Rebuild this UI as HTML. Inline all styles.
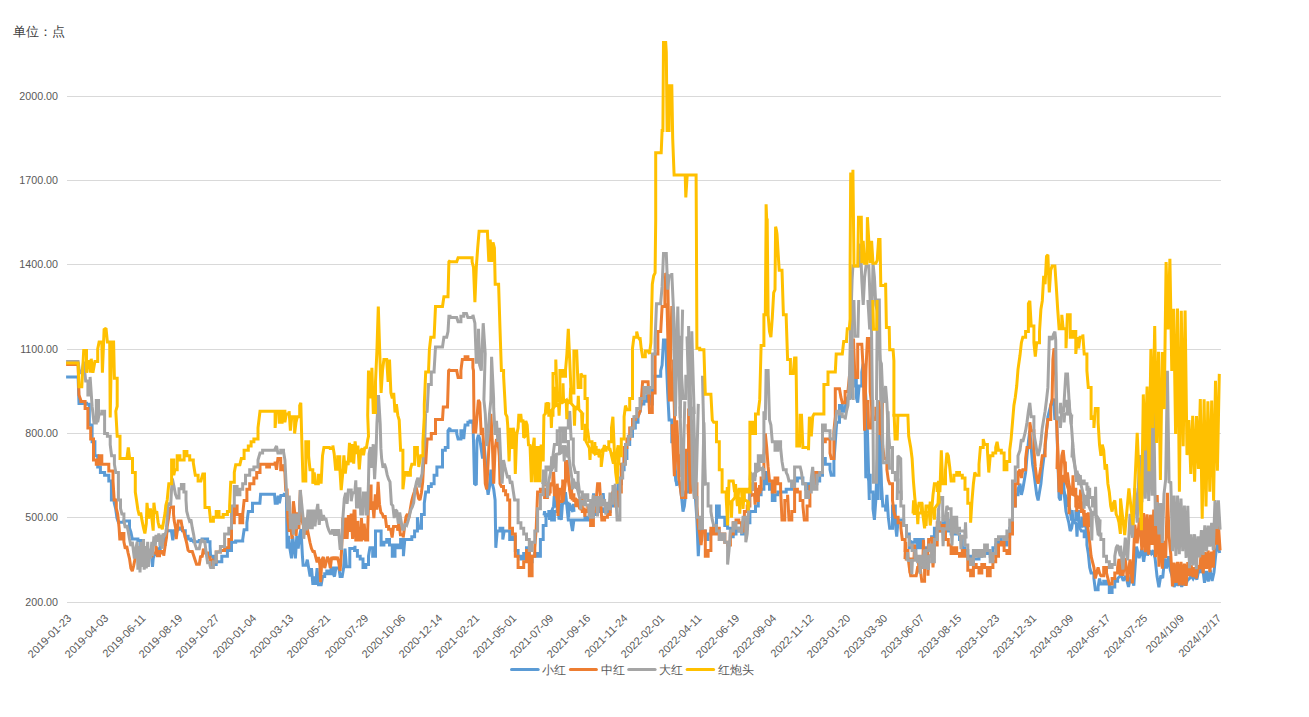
<!DOCTYPE html>
<html><head><meta charset="utf-8"><style>
html,body{margin:0;padding:0;background:#fff;}
body{width:1309px;height:717px;overflow:hidden;position:relative;font-family:"Liberation Sans",sans-serif;}
svg{position:absolute;left:0;top:0;}
.yl{position:absolute;right:1251px;font-size:10.7px;color:#595959;line-height:12px;white-space:nowrap;}
.xl{position:absolute;font-size:11px;color:#595959;white-space:nowrap;transform-origin:100% 50%;transform:rotate(-45deg);line-height:12px;}
.unit{position:absolute;left:13px;top:23.6px;font-size:12.5px;color:#404040;white-space:nowrap;}
.leg{position:absolute;top:663px;font-size:12px;color:#595959;white-space:nowrap;line-height:14px;}
</style></head><body>
<div class="unit">单位：点</div>
<div class="yl" style="top:90px">2000.00</div>
<div class="yl" style="top:174px">1700.00</div>
<div class="yl" style="top:258px">1400.00</div>
<div class="yl" style="top:343px">1100.00</div>
<div class="yl" style="top:427px">800.00</div>
<div class="yl" style="top:511px">500.00</div>
<div class="yl" style="top:596px">200.00</div>
<div class="xl" style="right:1240.2px;top:610px">2019-01-23</div>
<div class="xl" style="right:1203.1px;top:610px">2019-04-03</div>
<div class="xl" style="right:1166.0px;top:610px">2019-06-11</div>
<div class="xl" style="right:1128.8px;top:610px">2019-08-19</div>
<div class="xl" style="right:1091.7px;top:610px">2019-10-27</div>
<div class="xl" style="right:1054.6px;top:610px">2020-01-04</div>
<div class="xl" style="right:1017.5px;top:610px">2020-03-13</div>
<div class="xl" style="right:980.4px;top:610px">2020-05-21</div>
<div class="xl" style="right:943.2px;top:610px">2020-07-29</div>
<div class="xl" style="right:906.1px;top:610px">2020-10-06</div>
<div class="xl" style="right:869.0px;top:610px">2020-12-14</div>
<div class="xl" style="right:831.9px;top:610px">2021-02-21</div>
<div class="xl" style="right:794.8px;top:610px">2021-05-01</div>
<div class="xl" style="right:757.6px;top:610px">2021-07-09</div>
<div class="xl" style="right:720.5px;top:610px">2021-09-16</div>
<div class="xl" style="right:683.4px;top:610px">2021-11-24</div>
<div class="xl" style="right:646.3px;top:610px">2022-02-01</div>
<div class="xl" style="right:609.2px;top:610px">2022-04-11</div>
<div class="xl" style="right:572.1px;top:610px">2022-06-19</div>
<div class="xl" style="right:534.9px;top:610px">2022-09-04</div>
<div class="xl" style="right:497.8px;top:610px">2022-11-12</div>
<div class="xl" style="right:460.7px;top:610px">2023-01-20</div>
<div class="xl" style="right:423.6px;top:610px">2023-03-30</div>
<div class="xl" style="right:386.5px;top:610px">2023-06-07</div>
<div class="xl" style="right:349.3px;top:610px">2023-08-15</div>
<div class="xl" style="right:312.2px;top:610px">2023-10-23</div>
<div class="xl" style="right:275.1px;top:610px">2023-12-31</div>
<div class="xl" style="right:238.0px;top:610px">2024-03-09</div>
<div class="xl" style="right:200.9px;top:610px">2024-05-17</div>
<div class="xl" style="right:163.7px;top:610px">2024-07-25</div>
<div class="xl" style="right:126.6px;top:610px">2024/10/9</div>
<div class="xl" style="right:89.5px;top:610px">2024/12/17</div>
<svg width="1309" height="717" viewBox="0 0 1309 717">
<line x1="67" x2="1221" y1="96.5" y2="96.5" stroke="#D9D9D9" stroke-width="1"/>
<line x1="67" x2="1221" y1="180.5" y2="180.5" stroke="#D9D9D9" stroke-width="1"/>
<line x1="67" x2="1221" y1="264.5" y2="264.5" stroke="#D9D9D9" stroke-width="1"/>
<line x1="67" x2="1221" y1="349.5" y2="349.5" stroke="#D9D9D9" stroke-width="1"/>
<line x1="67" x2="1221" y1="433.5" y2="433.5" stroke="#D9D9D9" stroke-width="1"/>
<line x1="67" x2="1221" y1="517.5" y2="517.5" stroke="#D9D9D9" stroke-width="1"/>
<line x1="67" x2="1221" y1="602.5" y2="602.5" stroke="#D9D9D9" stroke-width="1"/>
<polyline points="66.1,376.9 78.1,376.9 79.0,403.4 82.3,403.4 82.3,403.3 86.5,403.3 86.5,404.2 89.3,404.2 89.3,425.1 92.1,425.1 92.1,441.8 94.9,441.8 94.9,455.8 97.7,455.8 97.7,466.9 100.4,466.9 100.4,472.5 104.6,472.5 104.6,475.3 108.8,475.3 108.8,480.9 111.4,480.9 111.4,500.0 114.2,500.0 114.2,502.8 115.6,508.4 117.0,518.1 118.4,522.3 121.2,522.3 123.9,522.3 123.9,520.9 126.7,520.9 129.5,520.9 129.5,527.9 130.9,532.1 132.3,539.1 135.1,539.1 137.9,539.1 137.9,540.4 140.7,540.4 140.7,546.0 143.5,546.0 143.5,547.4 146.3,547.4 146.3,550.2 149.1,550.2 149.1,553.0 151.8,553.0 151.8,558.6 152.5,566.9 153.2,558.6 154.6,554.4 157.4,554.4 157.4,548.8 160.2,548.8 160.2,544.6 163.0,544.6 165.1,544.6 165.1,543.2 165.8,536.3 167.2,530.7 171.4,530.7 172.8,540.4 174.2,530.7 176.9,530.7 176.9,529.3 179.7,529.3 179.7,527.9 182.5,527.9 182.5,530.7 185.3,530.7 185.3,536.3 188.1,536.3 188.1,539.1 190.9,539.1 190.9,540.4 193.7,540.4 193.7,541.8 199.3,541.8 199.3,540.4 202.1,540.4 202.1,539.1 204.8,539.1 207.6,539.1 207.6,541.8 210.0,541.8 210.0,546.0 210.6,556.2 213.4,556.2 213.4,564.6 216.2,564.6 216.2,561.8 221.8,561.8 221.8,556.2 227.4,556.2 227.4,550.6 231.5,550.6 231.5,542.3 235.7,542.3 235.7,540.9 242.7,540.9 242.7,539.5 244.1,529.7 246.9,529.7 246.9,522.7 248.3,511.6 252.5,511.6 252.5,503.2 255.0,503.2 259.9,503.2 260.6,494.2 274.5,494.2 275.2,503.2 277.3,503.2 278.0,495.6 279.4,503.2 280.8,495.6 284.3,495.6 284.3,494.2 286.4,494.2 287.1,548.6 288.5,536.0 289.9,548.6 291.5,558.3 292.7,536.0 294.1,548.6 295.4,558.3 296.8,536.0 298.2,548.6 299.6,536.0 301.0,529.1 302.4,555.6 303.1,565.3 305.9,565.3 307.3,559.7 308.7,568.1 310.1,576.5 311.5,568.1 312.9,584.8 314.3,576.5 315.7,584.8 317.1,568.1 318.5,584.8 321.2,584.8 322.6,576.5 324.7,576.5 324.7,573.7 326.8,573.7 326.8,570.9 328.9,570.9 328.9,573.7 331.0,573.7 331.0,568.1 333.1,568.1 333.1,573.7 334.5,576.5 335.9,568.1 338.7,568.1 338.7,566.7 340.1,576.5 342.2,576.5 343.6,568.1 345.0,548.6 346.4,566.7 347.7,566.7 349.8,566.7 349.8,548.6 352.6,548.6 355.0,548.6 355.0,545.8 354.6,550.6 357.4,550.6 357.4,556.2 360.2,556.2 360.2,559.0 363.0,559.0 363.0,567.4 365.8,567.4 365.8,564.6 368.5,564.6 368.5,556.2 369.9,547.8 372.7,547.8 372.7,556.2 375.5,556.2 375.5,531.1 378.3,531.1 381.1,531.1 381.1,545.0 383.9,545.0 383.9,542.3 386.7,542.3 386.7,539.5 389.5,539.5 389.5,545.0 392.3,545.0 392.3,556.2 395.0,556.2 395.0,545.0 397.8,545.0 397.8,547.8 400.6,547.8 400.6,539.5 403.4,539.5 403.4,556.2 404.8,539.5 407.6,539.5 411.8,539.5 411.8,536.7 414.6,536.7 414.6,531.1 417.4,531.1 417.4,517.2 418.8,528.3 421.5,528.3 421.5,514.4 424.3,514.4 424.3,503.2 425.7,492.1 428.5,492.1 428.5,486.5 431.3,486.5 431.3,483.7 434.1,483.7 434.1,475.3 436.9,475.3 436.9,466.9 439.7,466.9 442.5,466.9 442.5,450.2 445.3,450.2 445.3,447.4 448.0,447.4 448.0,430.7 450.0,427.9 450.0,430.7 456.7,430.7 456.7,433.5 458.1,439.1 460.9,439.1 460.9,430.7 463.7,430.7 463.7,439.1 465.1,425.1 467.9,425.1 467.9,422.3 470.0,422.3 470.0,420.9 472.8,420.9 473.5,440.4 474.5,483.7 476.3,485.1 477.0,440.4 478.4,434.9 479.8,439.1 481.2,448.8 482.6,458.6 483.9,441.8 485.3,458.6 486.7,483.7 488.1,494.8 489.5,486.5 490.9,469.7 492.3,483.7 493.7,489.3 495.1,500.0 495.8,547.8 497.2,531.1 500.0,531.1 500.0,528.3 502.8,528.3 502.8,539.5 504.2,531.1 506.9,531.1 509.7,531.1 509.7,539.5 512.5,539.5 512.5,536.7 515.3,536.7 515.3,550.6 518.1,550.6 518.1,556.2 520.9,556.2 520.9,559.0 523.7,559.0 523.7,553.4 526.5,553.4 526.5,547.8 529.3,547.8 529.3,561.8 532.1,561.8 532.1,556.2 534.8,556.2 534.8,553.4 537.6,553.4 537.6,556.2 540.4,556.2 540.4,539.5 543.2,539.5 543.2,525.5 546.0,525.5 546.0,514.4 548.8,514.4 548.8,511.6 551.6,511.6 551.6,519.9 554.4,519.9 554.4,511.6 557.2,511.6 557.2,506.0 559.9,506.0 559.9,511.6 561.3,519.9 562.7,500.4 565.5,500.4 565.5,492.1 566.9,506.0 568.3,519.9 571.1,519.9 571.1,522.7 572.5,531.1 573.9,519.9 576.7,519.9 579.5,519.9 582.3,519.9 585.0,519.9 585.0,517.2 587.8,517.2 587.8,519.9 590.6,519.9 590.6,517.2 593.4,517.2 593.4,514.4 596.2,514.4 596.2,506.0 599.0,506.0 599.0,511.6 601.8,511.6 601.8,508.8 604.6,508.8 604.6,511.6 607.4,511.6 610.2,511.6 610.2,506.0 612.9,506.0 612.9,494.8 615.7,494.8 615.7,492.1 618.5,492.1 618.5,483.7 621.3,483.7 621.3,469.7 624.1,469.7 624.1,458.6 626.9,458.6 626.9,444.6 629.7,444.6 629.7,436.3 632.5,436.3 632.5,427.9 635.3,427.9 635.3,422.3 638.0,422.3 638.0,416.7 640.0,411.2 640.0,412.5 641.2,404.1 643.9,404.1 643.9,401.3 646.7,401.3 646.7,395.7 649.5,395.7 649.5,404.1 652.3,404.1 652.3,392.9 653.7,376.2 657.9,376.2 660.7,376.2 660.7,370.6 662.1,365.0 663.5,339.9 665.7,339.9 666.3,359.5 667.7,392.9 669.1,420.0 671.8,420.0 671.8,441.8 674.6,441.8 674.6,455.8 676.0,480.9 677.4,483.7 680.2,483.7 680.2,486.5 681.6,497.6 683.0,511.6 684.4,506.0 685.8,492.1 688.6,492.1 688.6,447.4 690.0,455.8 691.4,469.7 694.2,469.7 694.2,483.7 695.6,500.4 696.9,519.9 698.3,556.2 699.7,528.3 701.1,522.7 702.5,531.1 705.3,531.1 705.3,539.5 708.1,539.5 708.1,533.9 710.9,533.9 710.9,531.1 713.7,531.1 713.7,525.5 716.5,525.5 716.5,506.0 719.3,506.0 719.3,517.2 722.1,517.2 724.8,517.2 724.8,525.5 727.6,525.5 727.6,528.3 730.4,528.3 730.4,536.7 733.2,536.7 733.2,533.9 736.0,533.9 736.0,528.3 738.8,528.3 738.8,531.1 741.6,531.1 741.6,533.9 744.4,533.9 744.4,528.3 747.2,528.3 747.2,522.7 749.9,522.7 749.9,511.6 752.7,511.6 755.5,511.6 755.5,506.0 758.3,506.0 758.3,494.8 761.1,494.8 761.1,489.3 763.9,489.3 763.9,472.5 766.7,472.5 766.7,483.7 769.5,483.7 769.5,489.3 772.3,489.3 772.3,500.4 775.0,500.4 775.0,494.8 777.8,494.8 777.8,492.1 780.6,492.1 783.4,492.1 786.2,492.1 786.2,489.3 789.0,489.3 791.8,489.3 791.8,483.7 794.6,483.7 794.6,480.9 797.4,480.9 797.4,478.1 802.9,478.1 802.9,483.7 805.7,483.7 805.7,489.3 808.5,489.3 808.5,483.7 811.3,483.7 811.3,480.9 814.1,480.9 814.1,483.7 816.9,483.7 816.9,480.9 819.7,480.9 819.7,475.3 822.5,475.3 822.5,458.6 825.3,458.6 825.3,464.2 830.0,464.2 830.0,466.9 830.0,469.7 831.2,475.3 833.9,475.3 833.9,461.4 835.3,441.8 836.7,422.3 839.5,422.3 839.5,405.6 842.3,405.6 842.3,411.2 845.1,411.2 845.1,408.4 846.5,400.0 847.9,397.2 850.7,397.2 850.7,386.0 853.5,386.0 853.5,377.6 856.3,377.6 856.3,397.2 857.7,402.7 859.1,386.0 861.8,386.0 861.8,372.1 863.2,363.7 864.6,377.6 866.0,399.9 867.4,430.6 868.8,480.0 867.4,475.3 870.2,475.3 870.2,492.1 873.0,492.1 873.0,508.8 874.4,519.9 875.8,500.4 877.2,464.2 878.6,436.3 880.0,455.8 881.4,483.7 882.8,506.0 885.6,506.0 885.6,511.6 886.9,494.8 888.3,517.2 889.7,528.3 892.5,528.3 892.5,506.0 895.3,506.0 895.3,522.7 896.7,536.7 898.1,519.9 900.9,519.9 903.7,519.9 903.7,525.5 906.5,525.5 906.5,533.9 909.3,533.9 909.3,547.8 912.1,547.8 912.1,542.3 914.8,542.3 914.8,539.5 917.6,539.5 917.6,547.8 920.4,547.8 920.4,539.5 923.2,539.5 923.2,547.8 926.0,547.8 926.0,550.6 928.8,550.6 928.8,539.5 931.6,539.5 931.6,536.7 934.4,536.7 934.4,528.3 937.2,528.3 937.2,531.1 939.9,531.1 942.7,531.1 942.7,522.7 945.5,522.7 945.5,519.9 948.3,519.9 948.3,531.1 951.1,531.1 951.1,533.9 953.9,533.9 953.9,531.1 956.7,531.1 956.7,533.9 959.5,533.9 959.5,539.5 962.3,539.5 962.3,547.8 965.0,547.8 965.0,550.6 967.8,550.6 967.8,556.2 970.6,556.2 970.6,564.6 973.4,564.6 973.4,559.0 976.2,559.0 979.0,559.0 979.0,556.2 981.8,556.2 981.8,553.4 984.6,553.4 984.6,550.6 987.4,550.6 987.4,553.4 990.2,553.4 990.2,556.2 992.9,556.2 992.9,547.8 995.7,547.8 995.7,545.0 998.5,545.0 998.5,539.5 1001.3,539.5 1001.3,542.3 1004.1,542.3 1004.1,545.0 1006.9,545.0 1006.9,536.7 1009.7,536.7 1009.7,528.3 1012.5,528.3 1012.5,506.0 1015.3,506.0 1015.3,494.8 1018.0,494.8 1018.0,489.3 1020.0,483.7 1020.0,483.7 1021.4,494.8 1022.8,489.3 1024.2,480.9 1025.6,472.5 1027.0,455.8 1028.4,441.8 1029.8,430.7 1031.2,447.4 1032.6,464.2 1033.9,472.5 1035.3,483.7 1036.7,494.8 1038.1,500.4 1039.5,492.1 1040.9,483.7 1042.3,469.7 1043.7,458.6 1045.1,447.4 1046.5,430.7 1047.9,416.7 1049.3,411.2 1050.7,405.6 1052.1,400.0 1052.9,399.9 1053.5,398.5 1054.9,420.0 1056.3,405.6 1057.7,455.8 1059.1,497.6 1060.4,500.4 1061.8,483.7 1063.2,478.1 1064.6,497.6 1066.0,511.6 1067.4,517.2 1068.8,522.7 1070.2,531.1 1071.6,528.3 1073.0,519.9 1075.8,519.9 1075.8,511.6 1078.6,511.6 1078.6,519.9 1080.0,528.3 1081.4,531.1 1084.2,531.1 1084.2,536.7 1086.9,536.7 1086.9,545.0 1088.3,553.4 1089.7,567.4 1091.1,572.9 1093.9,572.9 1093.9,578.5 1095.3,589.7 1098.1,589.7 1098.1,586.9 1099.5,578.5 1100.9,584.1 1103.7,584.1 1103.7,581.3 1106.5,581.3 1106.5,584.1 1109.3,584.1 1109.3,592.5 1112.1,592.5 1112.1,586.9 1114.8,586.9 1114.8,581.3 1117.6,581.3 1117.6,578.5 1120.4,575.7 1120.5,572.5 1123.2,580.8 1125.8,576.0 1128.5,587.0 1131.1,575.3 1133.8,585.6 1136.5,546.6 1139.1,558.2 1141.8,548.9 1143.7,561.9 1145.6,547.8 1147.5,555.5 1149.4,550.4 1151.3,553.6 1153.2,550.3 1155.1,558.3 1157.0,576.3 1158.9,587.2 1160.8,575.6 1162.7,578.1 1164.6,558.4 1166.5,568.6 1168.4,556.3 1170.3,570.1 1172.2,576.7 1174.1,587.1 1176.0,581.5 1177.9,585.5 1179.8,581.6 1181.7,586.8 1183.6,581.5 1185.5,585.4 1187.4,580.4 1189.3,578.7 1191.2,575.8 1193.1,578.8 1195.0,575.5 1196.9,579.5 1198.8,569.7 1200.7,572.6 1202.6,566.6 1204.5,582.7 1206.4,570.9 1208.3,581.5 1210.2,570.1 1212.1,580.9 1214.0,572.2 1215.9,552.9 1217.8,543.4 1219.7,553.0" fill="none" stroke="#5B9BD5" stroke-width="3" stroke-linejoin="miter" stroke-miterlimit="2" stroke-linecap="butt"/>
<polyline points="674.5,470.4 676.9,486.0" fill="none" stroke="#5B9BD5" stroke-width="3" stroke-linejoin="miter" stroke-miterlimit="2" stroke-linecap="butt"/>
<polyline points="688.0,449.5 690.4,491.2" fill="none" stroke="#5B9BD5" stroke-width="3" stroke-linejoin="miter" stroke-miterlimit="2" stroke-linecap="butt"/>
<polyline points="865.1,427.9 865.8,476.7 868.6,476.7 869.3,500.0" fill="none" stroke="#5B9BD5" stroke-width="3" stroke-linejoin="miter" stroke-miterlimit="2" stroke-linecap="butt"/>
<polyline points="877.9,500.0 878.5,436.3 880.4,436.3 881.3,500.0" fill="none" stroke="#5B9BD5" stroke-width="3" stroke-linejoin="miter" stroke-miterlimit="2" stroke-linecap="butt"/>
<polyline points="1062.0,490.0 1062.6,476.4 1063.2,490.0 1066.8,498.8 1067.4,507.0 1068.0,498.8 1071.6,520.5 1072.2,510.2 1072.8,520.5 1076.4,524.2 1077.0,536.7 1077.6,524.2 1081.2,526.0 1081.8,516.7 1082.4,526.0 1086.0,526.0 1086.6,535.9 1087.2,526.0" fill="none" stroke="#5B9BD5" stroke-width="3" stroke-linejoin="miter" stroke-miterlimit="2" stroke-linecap="butt"/>
<polyline points="544.0,515.4 544.6,511.3 545.2,515.4 548.8,515.4 549.4,519.7 550.0,515.4 553.6,506.2 554.2,496.1 554.8,506.2 558.4,505.9 559.0,519.6 559.6,505.9 563.2,502.8 563.8,489.3 564.4,502.8 568.0,503.2 568.6,517.5 569.2,503.2 572.8,511.9 573.4,503.9 574.0,511.9" fill="none" stroke="#5B9BD5" stroke-width="3" stroke-linejoin="miter" stroke-miterlimit="2" stroke-linecap="butt"/>
<polyline points="593.0,501.6 593.6,493.3 594.2,501.6 597.8,501.6 598.4,507.2 599.0,501.6 602.6,501.6 603.2,493.0 603.8,501.6" fill="none" stroke="#5B9BD5" stroke-width="3" stroke-linejoin="miter" stroke-miterlimit="2" stroke-linecap="butt"/>
<polyline points="910.0,546.0 910.6,540.3 911.2,546.0 915.1,546.0 915.7,550.3 916.3,546.0 920.2,546.0 920.8,541.6 921.4,546.0" fill="none" stroke="#5B9BD5" stroke-width="3" stroke-linejoin="miter" stroke-miterlimit="2" stroke-linecap="butt"/>
<polyline points="66.1,364.4 78.1,364.4 79.0,395.0 80.9,400.6 80.9,401.4 85.1,401.4 85.1,408.4 87.9,408.4 87.9,427.9 90.7,427.9 90.7,439.1 93.5,439.1 93.5,460.0 96.3,460.0 96.3,464.2 99.1,464.2 99.1,455.8 101.8,455.8 101.8,464.2 104.6,464.2 108.8,464.2 108.8,471.1 113.0,471.1 113.0,480.9 114.2,500.0 116.3,500.0 116.3,508.4 117.7,513.9 119.1,527.9 119.8,539.1 121.9,539.1 121.9,533.5 123.9,533.5 123.9,541.8 125.3,548.8 126.7,546.0 128.1,553.0 129.5,558.6 130.9,568.3 132.3,571.1 133.7,565.6 135.1,558.6 136.5,553.0 139.3,553.0 143.5,553.0 143.5,555.8 147.7,555.8 151.8,555.8 151.8,553.0 156.0,553.0 156.0,546.0 157.4,555.8 159.5,555.8 159.5,551.6 161.6,551.6 161.6,553.0 163.7,553.0 163.7,555.8 165.1,546.0 166.5,537.7 167.2,526.5 168.6,518.1 170.0,508.4 171.4,507.0 173.5,507.0 173.5,513.9 174.2,520.9 175.6,527.9 176.2,539.1 177.6,527.9 178.3,520.9 181.1,520.9 182.5,529.3 183.9,532.1 185.3,537.7 186.7,543.2 188.1,550.2 189.5,551.6 192.3,551.6 193.7,555.8 195.1,560.0 196.5,564.2 199.3,564.2 200.7,555.8 202.1,557.2 203.4,548.8 204.8,553.0 207.6,553.0 207.6,557.2 210.0,557.2 210.0,560.0 212.0,560.0 212.0,567.4 213.4,561.8 216.2,561.8 216.2,552.0 220.4,552.0 220.4,550.6 224.6,550.6 224.6,547.8 228.8,547.8 228.8,539.5 231.5,539.5 231.5,522.7 234.3,522.7 234.3,506.0 237.1,506.0 237.1,514.4 239.9,514.4 239.9,522.7 242.7,522.7 242.7,514.4 244.1,500.4 246.9,500.4 246.9,489.3 249.7,489.3 249.7,483.7 253.9,483.7 253.9,478.1 256.7,478.1 256.7,472.5 260.0,472.5 260.0,464.2 260.0,464.2 262.6,464.2 266.7,464.2 266.7,466.9 269.5,466.9 269.5,464.2 275.1,464.2 275.1,461.4 276.5,469.7 277.9,458.6 280.7,458.6 280.7,469.7 283.5,469.7 283.5,464.2 284.9,472.5 285.7,490.0 287.1,490.0 287.8,517.9 289.2,531.8 290.6,523.5 292.0,538.8 293.4,501.2 294.7,512.3 296.1,536.0 297.5,512.3 298.9,529.1 300.3,490.0 301.7,519.3 303.1,524.9 304.5,517.9 305.9,534.6 307.3,529.1 308.7,536.0 310.1,543.0 311.5,548.6 312.9,551.4 314.3,551.4 315.7,556.9 317.1,562.5 318.5,556.9 319.9,565.3 320.6,582.1 321.9,559.7 323.3,556.9 324.7,568.1 326.1,562.5 327.5,556.9 328.9,559.7 330.3,568.1 331.7,556.9 333.1,559.7 334.5,556.9 335.9,559.7 337.3,556.9 338.7,562.5 340.1,570.9 341.5,551.4 342.9,517.9 344.3,538.8 345.7,517.9 347.1,538.8 348.4,515.1 349.8,531.8 351.2,513.7 352.6,538.8 354.0,510.9 355.0,510.9 355.8,540.0 357.9,540.0 357.9,520.9 359.3,540.0 361.4,540.0 361.4,518.1 362.8,540.0 364.2,523.7 365.6,540.0 367.7,540.0 367.7,529.3 369.1,486.0 371.1,486.0 371.1,509.7 372.5,501.4 373.9,518.1 375.3,494.4 376.7,509.7 378.1,481.8 379.5,504.2 380.9,512.5 382.3,513.9 383.7,518.1 385.1,515.3 386.5,526.5 388.6,526.5 388.6,529.3 390.7,529.3 392.1,537.6 393.5,526.5 395.6,526.5 397.6,526.5 397.6,530.7 399.0,522.3 400.4,534.8 403.2,534.8 403.2,537.6 404.6,526.5 406.0,516.7 407.4,513.9 408.8,518.1 410.2,509.7 411.6,501.4 413.0,495.8 414.4,491.6 415.8,486.0 417.2,491.6 418.6,498.6 420.0,500.0 421.4,493.0 422.7,481.8 424.1,453.9 425.5,440.0 425.7,464.2 427.1,439.1 431.3,439.1 431.3,433.5 435.5,433.5 435.5,419.5 442.5,419.5 443.3,407.0 447.5,407.0 448.6,370.6 450.0,369.2 450.0,370.6 456.7,370.6 458.1,377.6 460.9,377.6 460.9,370.6 462.3,359.5 465.1,359.5 465.1,356.7 467.9,356.7 467.9,359.5 472.9,359.5 472.9,367.8 473.5,370.6 474.0,420.0 473.5,432.1 475.6,432.1 475.6,433.5 477.0,416.7 478.4,400.0 479.8,402.8 481.2,434.9 482.6,427.9 483.9,448.8 485.3,483.7 486.7,489.3 488.1,462.8 489.5,434.9 490.9,413.9 492.3,441.8 493.7,483.7 495.1,448.8 496.5,439.1 497.9,440.4 499.3,455.8 500.0,483.7 501.4,486.5 503.5,486.5 503.5,490.7 505.6,490.7 505.6,494.8 507.7,494.8 507.7,500.0 509.7,500.0 509.7,528.3 512.5,528.3 512.5,533.9 515.3,533.9 515.3,556.2 518.1,556.2 518.1,567.4 520.9,567.4 523.7,567.4 523.7,561.8 526.5,561.8 526.5,550.6 529.3,550.6 529.3,575.7 532.1,575.7 532.1,556.2 534.8,556.2 534.8,547.8 536.2,528.3 537.6,492.1 540.4,492.1 540.4,489.3 544.6,489.3 544.6,497.6 547.4,497.6 547.4,492.1 550.2,492.1 550.2,483.7 553.0,483.7 553.0,472.5 554.4,494.8 557.2,494.8 557.2,483.7 558.5,506.0 559.9,489.3 562.7,489.3 562.7,480.9 565.5,480.9 565.5,461.4 568.3,461.4 568.3,478.1 569.7,489.3 571.1,494.8 573.9,494.8 573.9,500.4 576.7,500.4 576.7,503.2 579.5,503.2 579.5,500.4 582.3,500.4 582.3,511.6 585.0,511.6 587.8,511.6 587.8,506.0 590.6,506.0 590.6,525.5 593.4,525.5 593.4,511.6 596.2,511.6 596.2,500.4 597.6,483.7 599.6,483.7 600.4,497.6 601.8,519.9 604.6,519.9 604.6,517.2 607.4,517.2 607.4,514.4 610.2,514.4 610.2,503.2 611.5,494.8 612.9,492.1 615.7,492.1 615.7,506.0 618.5,506.0 618.5,492.1 621.3,492.1 621.3,464.2 624.1,464.2 624.1,447.4 626.9,447.4 626.9,439.1 629.7,439.1 629.7,427.9 632.5,427.9 632.5,419.5 635.3,419.5 635.3,416.7 638.0,416.7 640.0,411.2 640.0,411.9 641.2,401.3 642.6,381.8 648.1,381.8 649.5,412.5 652.3,412.5 652.3,392.9 655.1,392.9 655.1,353.9 657.9,353.9 657.9,331.6 660.7,331.6 662.1,306.5 664.9,306.5 664.9,289.7 665.7,273.0 667.7,275.8 669.1,356.7 670.4,387.4 671.8,401.3 673.2,359.5 674.6,420.0 674.6,469.7 676.0,455.8 678.8,455.8 678.8,478.1 680.2,486.5 681.6,497.6 685.8,497.6 685.8,450.2 688.6,450.2 688.6,408.4 690.0,427.9 691.4,455.8 694.2,455.8 694.2,483.7 696.9,483.7 696.9,506.0 698.3,525.5 699.7,533.9 701.1,545.0 702.5,531.1 705.3,531.1 705.3,556.2 708.1,556.2 708.1,550.6 710.9,550.6 710.9,528.3 713.7,528.3 713.7,533.9 716.5,533.9 716.5,528.3 719.3,528.3 719.3,539.5 722.1,539.5 722.1,533.9 724.8,533.9 724.8,542.3 727.6,542.3 727.6,545.0 730.4,545.0 730.4,533.9 733.2,533.9 733.2,522.7 736.0,522.7 736.0,519.9 738.8,519.9 738.8,522.7 741.6,522.7 741.6,531.1 744.4,531.1 744.4,511.6 747.2,511.6 747.2,506.0 749.9,506.0 749.9,489.3 752.7,489.3 752.7,483.7 755.5,483.7 755.5,500.4 758.3,500.4 758.3,489.3 761.1,489.3 761.1,478.1 763.9,478.1 763.9,455.8 765.3,433.5 766.7,447.4 768.1,466.9 769.5,480.9 772.3,480.9 772.3,492.1 775.0,492.1 775.0,478.1 777.8,478.1 777.8,483.7 780.6,483.7 780.6,489.3 782.0,519.9 784.8,519.9 784.8,500.4 787.6,500.4 787.6,494.8 789.0,519.9 791.8,519.9 791.8,511.6 794.6,511.6 794.6,489.3 797.4,489.3 797.4,492.1 800.2,492.1 800.2,500.4 802.9,500.4 802.9,506.0 804.3,519.9 807.1,519.9 807.1,506.0 809.9,506.0 809.9,486.5 812.7,486.5 812.7,483.7 815.5,483.7 815.5,472.5 819.7,472.5 822.5,472.5 822.5,441.8 825.3,441.8 825.3,439.1 830.0,439.1 830.0,450.2 830.0,453.0 831.2,458.6 833.9,458.6 833.9,430.7 835.3,416.7 835.3,388.8 839.5,388.8 840.9,397.2 842.3,402.7 845.1,402.7 845.1,391.6 847.9,391.6 849.3,377.6 852.1,377.6 853.5,338.6 854.9,377.6 857.7,377.6 857.7,344.2 861.8,344.2 863.2,369.3 864.6,430.6 866.0,369.3 867.4,338.6 869.7,338.6 870.2,391.6 871.6,405.5 873.0,419.5 875.8,419.5 875.8,408.3 878.6,408.3 880.0,419.5 881.4,430.6 882.8,447.4 884.2,458.5 886.9,458.5 886.9,469.7 888.3,480.0 889.7,483.7 892.5,483.7 892.5,500.4 893.9,511.6 895.3,517.2 898.1,517.2 898.1,522.7 900.9,522.7 900.9,528.3 902.3,539.5 905.1,539.5 905.1,550.6 907.9,550.6 907.9,556.2 909.3,567.4 910.7,575.7 913.4,575.7 916.2,575.7 917.6,567.4 920.4,567.4 920.4,570.2 921.8,581.3 924.6,581.3 924.6,567.4 927.4,567.4 927.4,559.0 928.8,539.5 931.6,539.5 931.6,536.7 933.0,567.4 934.4,545.0 937.2,545.0 937.2,522.7 939.9,522.7 939.9,531.1 942.7,531.1 942.7,525.5 945.5,525.5 945.5,539.5 948.3,539.5 948.3,545.0 951.1,545.0 951.1,553.4 953.9,553.4 953.9,547.8 956.7,547.8 956.7,553.4 959.5,553.4 959.5,556.2 962.3,556.2 962.3,550.6 965.0,550.6 965.0,556.2 967.8,556.2 967.8,570.2 970.6,570.2 970.6,575.7 973.4,575.7 973.4,564.6 976.2,564.6 976.2,567.4 979.0,567.4 979.0,572.9 981.8,572.9 981.8,564.6 984.6,564.6 984.6,567.4 987.4,567.4 987.4,575.7 990.2,575.7 990.2,567.4 992.9,567.4 992.9,561.8 995.7,561.8 995.7,556.2 998.5,556.2 998.5,545.0 1001.3,545.0 1001.3,542.3 1004.1,542.3 1004.1,550.6 1006.9,550.6 1006.9,553.4 1009.7,553.4 1009.7,533.9 1012.5,533.9 1012.5,506.0 1015.3,506.0 1015.3,483.7 1018.0,483.7 1018.0,472.5 1020.0,469.7 1020.0,469.7 1021.4,478.1 1022.8,469.7 1025.6,469.7 1025.6,458.6 1027.0,447.4 1029.8,447.4 1029.8,422.3 1031.2,430.7 1033.9,430.7 1033.9,450.2 1035.3,466.9 1036.7,478.1 1038.1,483.7 1039.5,475.3 1040.9,466.9 1042.3,455.8 1045.1,455.8 1045.1,444.6 1046.5,430.7 1047.9,419.5 1050.7,419.5 1050.7,405.6 1052.1,400.0 1052.1,399.9 1052.9,359.5 1054.0,348.3 1054.9,353.9 1055.7,376.2 1056.3,420.0 1056.3,411.2 1057.7,450.2 1059.1,492.1 1060.4,480.9 1061.8,455.8 1063.2,450.2 1064.6,464.2 1066.0,478.1 1067.4,472.5 1068.8,483.7 1070.2,489.3 1071.6,494.8 1073.0,489.3 1075.8,489.3 1075.8,506.0 1078.6,506.0 1078.6,508.8 1080.0,500.4 1081.4,511.6 1084.2,511.6 1084.2,514.4 1086.9,514.4 1086.9,519.9 1088.3,531.1 1089.7,542.3 1091.1,556.2 1092.5,561.8 1093.9,567.4 1095.3,578.5 1096.7,572.9 1098.1,567.4 1099.5,572.9 1100.9,575.7 1103.7,575.7 1103.7,567.4 1106.5,567.4 1106.5,572.9 1107.9,578.5 1109.3,584.1 1112.1,584.1 1112.1,578.5 1114.8,578.5 1114.8,572.9 1117.6,572.9 1117.6,567.4 1119.0,559.0 1120.4,575.7 1120.5,558.8 1122.9,575.8 1125.3,558.1 1127.6,581.3 1130.0,559.5 1132.4,583.4 1134.8,524.8 1137.2,543.3 1139.5,517.8 1141.9,550.2 1143.6,513.1 1145.3,552.3 1147.0,514.3 1148.7,554.7 1150.4,514.7 1152.1,544.8 1153.8,509.6 1155.5,557.2 1157.2,495.0 1158.9,566.6 1160.6,520.3 1162.3,568.6 1164.0,540.8 1165.7,558.0 1167.4,492.7 1169.1,536.3 1170.8,554.4 1172.5,586.5 1174.2,562.6 1175.9,583.0 1177.6,561.9 1179.3,585.3 1181.0,561.8 1182.7,585.3 1184.4,563.5 1186.1,586.0 1187.8,562.2 1189.5,575.9 1191.2,565.1 1192.9,577.0 1194.6,567.2 1196.3,578.4 1198.0,565.5 1199.7,569.1 1201.4,551.2 1203.1,573.4 1204.8,552.2 1206.5,568.9 1208.2,550.5 1209.9,572.2 1211.6,551.7 1213.3,567.7 1215.0,525.7 1216.7,544.7 1218.4,524.0 1220.1,550.3" fill="none" stroke="#ED7D31" stroke-width="3" stroke-linejoin="miter" stroke-miterlimit="2" stroke-linecap="butt"/>
<polyline points="667.0,303.3 669.4,401.4 671.8,306.1" fill="none" stroke="#ED7D31" stroke-width="3" stroke-linejoin="miter" stroke-miterlimit="2" stroke-linecap="butt"/>
<polyline points="672.0,424.1 674.4,476.2 676.8,420.3 679.2,477.1" fill="none" stroke="#ED7D31" stroke-width="3" stroke-linejoin="miter" stroke-miterlimit="2" stroke-linecap="butt"/>
<polyline points="688.0,424.1 690.4,493.7 692.8,420.2 695.2,493.8" fill="none" stroke="#ED7D31" stroke-width="3" stroke-linejoin="miter" stroke-miterlimit="2" stroke-linecap="butt"/>
<polyline points="867.9,400.0 868.6,427.9 871.4,427.9 872.1,400.0" fill="none" stroke="#ED7D31" stroke-width="3" stroke-linejoin="miter" stroke-miterlimit="2" stroke-linecap="butt"/>
<polyline points="879.1,400.0 879.7,433.5 881.8,433.5 882.5,400.0" fill="none" stroke="#ED7D31" stroke-width="3" stroke-linejoin="miter" stroke-miterlimit="2" stroke-linecap="butt"/>
<polyline points="1057.0,469.0 1057.6,443.5 1058.2,469.0 1060.8,475.3 1061.4,494.1 1062.0,475.3 1064.7,481.9 1065.3,461.6 1065.9,481.9 1068.5,489.5 1069.1,514.3 1069.7,489.5 1072.4,494.9 1073.0,475.2 1073.6,494.9 1076.2,496.1 1076.8,511.7 1077.4,496.1 1080.0,500.9 1080.6,489.7 1081.2,500.9 1083.9,515.5 1084.5,526.5 1085.1,515.5 1087.7,527.2 1088.3,512.2 1088.9,527.2" fill="none" stroke="#ED7D31" stroke-width="3" stroke-linejoin="miter" stroke-miterlimit="2" stroke-linecap="butt"/>
<polyline points="544.0,484.9 544.6,473.9 545.2,484.9 548.5,484.9 549.1,495.6 549.7,484.9 553.0,484.9 553.6,471.9 554.2,484.9 557.4,501.6 558.0,515.9 558.6,501.6 561.9,501.6 562.5,485.6 563.1,501.6 566.4,472.3 567.0,480.0 567.6,472.3 570.9,498.9 571.5,489.2 572.1,498.9 575.4,498.9 576.0,507.1 576.6,498.9 579.8,509.0 580.4,499.6 581.0,509.0 584.3,509.0 584.9,516.6 585.5,509.0" fill="none" stroke="#ED7D31" stroke-width="3" stroke-linejoin="miter" stroke-miterlimit="2" stroke-linecap="butt"/>
<polyline points="750.0,495.5 750.6,484.4 751.2,495.5 754.5,494.4 755.1,504.6 755.7,494.4 759.0,493.3 759.6,485.2 760.2,493.3" fill="none" stroke="#ED7D31" stroke-width="3" stroke-linejoin="miter" stroke-miterlimit="2" stroke-linecap="butt"/>
<polyline points="905.0,559.0 905.6,542.0 906.2,559.0 909.5,559.0 910.1,573.1 910.7,559.0 914.0,559.0 914.6,544.5 915.2,559.0 918.4,559.0 919.0,572.4 919.6,559.0 922.9,559.0 923.5,539.8 924.1,559.0 927.4,557.4 928.0,575.7 928.6,557.4 931.9,554.5 932.5,537.0 933.1,554.5" fill="none" stroke="#ED7D31" stroke-width="3" stroke-linejoin="miter" stroke-miterlimit="2" stroke-linecap="butt"/>
<polyline points="66.1,361.6 78.1,361.6 79.5,372.7 81.8,372.7 83.7,361.6 85.7,381.1 87.9,381.1 87.9,395.0 90.1,395.0 90.1,376.9 92.1,406.2 94.0,422.9 96.3,422.9 96.3,400.6 98.5,400.6 98.5,417.4 97.7,422.3 99.1,413.9 101.8,413.9 101.8,411.2 104.6,411.2 104.6,433.5 107.4,433.5 107.4,436.3 110.2,436.3 110.2,444.6 111.6,455.8 114.4,455.8 114.4,464.2 115.8,472.5 118.4,472.5 118.4,500.0 120.5,500.0 120.5,508.4 121.9,513.9 123.9,513.9 123.9,520.9 125.3,527.9 126.7,525.1 128.1,530.7 129.5,539.1 130.9,546.0 132.3,541.8 133.7,553.0 134.4,558.6 135.8,548.8 137.2,541.8 137.9,569.7 139.3,546.0 140.0,572.5 141.4,541.8 142.1,566.9 143.5,539.1 144.2,569.7 145.6,546.0 146.3,568.3 147.7,541.8 148.4,566.9 149.7,548.8 150.4,558.6 151.8,541.8 152.5,555.8 153.9,536.3 155.3,546.0 156.0,534.9 157.4,541.8 158.8,533.5 160.2,546.0 160.9,534.9 162.3,548.8 163.0,533.5 164.4,536.3 165.8,532.1 166.5,527.9 167.2,518.1 167.9,505.6 169.3,502.8 170.7,505.6 171.4,491.6 172.3,478.5 173.9,486.1 175.4,494.0 176.9,498.0 179.0,498.0 179.0,488.8 181.4,488.8 181.4,484.5 183.9,484.5 183.9,492.1 186.0,492.1 186.0,500.0 186.7,511.2 188.1,516.7 189.5,520.9 190.9,519.5 192.3,527.9 193.7,534.9 195.1,544.6 196.5,548.8 199.3,548.8 200.7,541.8 202.1,539.1 203.4,541.8 204.8,541.8 206.2,553.0 207.6,562.8 210.0,562.8 210.0,565.6 210.6,567.4 213.4,567.4 213.4,561.8 216.2,561.8 216.2,552.0 220.4,552.0 220.4,546.4 224.6,546.4 224.6,533.9 228.8,533.9 228.8,528.3 231.5,528.3 231.5,506.0 234.3,506.0 234.3,486.5 237.1,486.5 237.1,494.8 239.9,494.8 239.9,489.3 242.7,489.3 242.7,483.7 245.5,483.7 245.5,475.3 249.7,475.3 249.7,469.7 253.9,469.7 253.9,466.9 258.0,466.9 258.0,460.0 260.0,453.0 260.0,453.0 262.6,453.0 262.6,450.2 269.5,450.2 275.1,450.2 275.1,448.8 276.5,446.0 277.9,453.0 280.7,453.0 280.7,450.2 283.5,450.2 283.5,451.6 284.9,460.0 286.4,490.0 287.8,510.9 289.2,495.6 290.6,529.1 292.0,513.7 293.4,534.6 294.7,513.7 296.1,529.1 297.5,513.7 298.9,524.9 300.3,490.0 301.7,503.9 303.1,517.9 303.8,538.8 305.2,517.9 306.6,530.4 308.0,509.5 309.4,529.1 310.8,509.5 312.2,529.1 313.6,509.5 315.0,526.3 316.4,512.3 317.8,503.9 319.2,524.9 320.6,509.5 321.9,520.7 323.3,515.1 324.7,519.3 326.1,519.3 327.5,526.3 328.9,530.4 330.3,533.2 332.4,533.2 332.4,530.4 334.5,530.4 334.5,534.6 336.6,534.6 336.6,530.4 338.7,530.4 338.7,531.8 340.1,548.6 341.5,548.6 342.9,517.9 344.3,498.4 345.7,492.8 347.1,503.9 348.4,490.0 351.2,490.0 351.2,501.2 352.6,492.8 355.0,492.8 355.0,490.0 355.8,480.4 356.5,506.9 357.9,506.9 358.6,488.8 360.0,488.8 360.7,513.9 362.8,513.9 363.5,493.0 365.6,493.0 366.3,513.9 367.4,513.9 368.4,484.6 369.1,453.9 370.4,447.0 371.8,467.9 373.2,444.2 374.6,479.1 376.0,453.9 376.9,423.7 378.5,395.2 380.2,423.7 380.9,448.4 381.6,458.1 383.0,467.9 384.4,463.7 385.8,467.9 387.2,474.9 388.6,479.1 390.0,481.8 391.4,504.2 392.8,505.6 394.2,518.1 395.6,509.7 396.9,511.1 398.3,523.7 399.7,512.5 401.1,520.9 402.5,529.3 403.9,529.3 405.3,523.7 406.7,525.1 408.1,520.9 409.5,515.3 410.9,509.7 412.3,506.9 413.7,502.8 415.1,488.8 416.5,481.8 417.9,477.7 419.3,487.4 420.7,479.1 422.1,473.5 423.4,453.9 424.8,440.0 425.7,411.2 427.1,412.5 428.5,384.6 431.3,384.6 431.3,372.0 434.1,372.0 434.1,370.6 435.5,346.9 442.5,346.9 443.9,337.2 446.7,337.2 448.0,331.6 448.9,316.2 450.0,316.2 450.0,317.6 456.7,317.6 458.1,321.8 460.9,321.8 460.9,316.2 463.7,316.2 463.7,313.4 466.5,313.4 467.9,317.6 472.9,317.6 472.9,314.8 474.9,323.2 476.3,362.3 478.5,362.3 478.5,328.8 479.6,365.0 481.3,370.6 483.2,323.2 485.2,353.9 483.9,400.0 485.3,413.9 486.7,446.0 488.1,434.9 489.5,413.9 490.9,400.0 491.6,356.7 493.6,398.5 493.7,408.4 495.1,434.9 496.5,420.9 497.9,441.8 499.3,427.9 500.7,460.0 502.1,483.7 503.5,460.0 504.9,466.9 506.3,472.5 507.7,478.1 509.1,475.3 510.4,483.7 511.8,480.9 513.2,490.7 514.6,500.0 518.1,500.0 518.1,522.7 520.9,522.7 520.9,528.3 523.7,528.3 523.7,533.9 526.5,533.9 526.5,539.5 529.3,539.5 529.3,550.6 532.1,550.6 532.1,542.3 534.8,542.3 534.8,531.1 537.6,531.1 537.6,508.8 540.4,508.8 540.4,494.8 543.2,494.8 543.2,480.9 546.0,480.9 546.0,466.9 548.8,466.9 548.8,469.7 551.6,469.7 551.6,466.9 553.0,455.8 554.4,444.6 557.2,444.6 557.2,430.7 559.9,430.7 559.9,427.9 562.7,427.9 562.7,441.8 565.5,441.8 565.5,427.9 568.3,427.9 568.3,416.7 569.7,411.2 571.1,439.1 573.3,439.1 573.3,464.2 575.3,472.5 578.1,472.5 578.1,480.9 579.5,492.1 582.3,492.1 582.3,497.6 585.0,497.6 585.0,494.8 587.8,494.8 587.8,500.4 590.6,500.4 590.6,517.2 593.4,517.2 593.4,503.2 596.2,503.2 596.2,497.6 599.0,497.6 599.0,503.2 601.8,503.2 601.8,500.4 604.6,500.4 604.6,503.2 607.4,503.2 607.4,508.8 610.2,508.8 610.2,503.2 612.9,503.2 612.9,486.5 615.2,486.5 615.2,483.7 617.1,519.9 619.9,519.9 619.9,478.1 622.7,478.1 622.7,464.2 625.5,464.2 625.5,444.6 628.3,444.6 628.3,436.3 631.1,436.3 631.1,427.9 633.9,427.9 633.9,416.7 636.7,416.7 636.7,408.4 640.0,408.4 640.0,405.6 640.0,398.5 643.9,398.5 643.9,387.4 646.7,387.4 646.7,392.9 649.5,392.9 649.5,387.4 652.3,387.4 652.3,353.9 655.1,353.9 655.1,339.9 656.5,303.7 660.7,303.7 660.7,302.3 662.1,286.9 663.5,253.5 666.3,253.5 667.7,289.7 669.1,275.8 671.8,275.8 671.8,273.0 673.2,303.7 674.6,331.6 676.0,359.5 677.4,337.2 680.2,337.2 681.6,376.2 683.0,398.5 685.8,398.5 685.8,376.2 688.6,376.2 688.6,326.0 690.0,387.4 691.4,420.0 692.8,483.7 694.2,497.6 696.9,497.6 696.9,517.2 699.7,517.2 699.7,528.3 702.5,528.3 702.5,492.1 703.9,422.3 705.3,483.7 708.1,483.7 708.1,506.0 710.9,506.0 710.9,511.6 712.3,519.9 713.7,525.5 716.5,525.5 716.5,531.1 719.3,531.1 719.3,539.5 722.1,539.5 722.1,533.9 724.8,533.9 724.8,542.3 727.6,542.3 727.6,564.6 729.0,550.6 730.4,531.1 733.2,531.1 733.2,522.7 736.0,522.7 736.0,528.3 738.8,528.3 738.8,531.1 741.6,531.1 741.6,533.9 743.0,517.2 745.8,517.2 745.8,542.3 747.2,533.9 748.5,511.6 749.9,489.3 752.7,489.3 752.7,475.3 755.5,475.3 755.5,464.2 758.3,464.2 758.3,455.8 761.1,455.8 761.1,461.4 763.9,461.4 763.9,411.2 765.3,420.0 766.1,370.6 768.1,370.6 769.5,420.0 770.9,425.1 772.3,441.8 775.0,441.8 775.0,450.2 777.8,450.2 777.8,441.8 780.6,441.8 780.6,447.4 782.0,461.4 783.4,469.7 786.2,469.7 786.2,472.5 787.6,475.3 789.0,480.9 791.8,480.9 791.8,486.5 794.6,486.5 794.6,466.9 800.2,466.9 801.5,472.5 802.9,483.7 805.7,483.7 805.7,497.6 808.5,497.6 808.5,492.1 811.3,492.1 811.3,478.1 812.7,466.9 814.1,489.3 816.9,489.3 816.9,475.3 819.7,475.3 819.7,472.5 822.5,472.5 822.5,425.1 825.3,425.1 825.3,430.7 830.0,430.7 830.0,436.3 830.0,437.7 831.2,439.1 833.9,439.1 833.9,433.5 835.3,425.1 836.7,411.2 839.5,411.2 839.5,413.9 842.3,413.9 842.3,416.7 845.1,416.7 845.1,419.5 846.5,411.2 847.9,405.6 849.3,383.2 850.7,324.6 852.1,280.0 852.9,266.0 859.1,266.0 860.4,243.7 861.8,279.9 863.2,305.0 864.6,277.2 866.0,266.0 868.8,266.0 870.2,302.3 871.6,327.4 873.0,263.2 874.4,277.2 875.8,305.0 877.2,310.6 878.6,338.5 880.0,360.0 881.4,363.7 882.8,397.2 884.2,402.7 885.6,386.0 886.9,402.7 888.3,433.4 889.7,447.4 892.5,447.4 892.5,472.5 895.3,472.5 895.3,480.0 898.1,480.0 898.1,492.1 900.9,492.1 900.9,506.0 903.7,506.0 903.7,525.5 906.5,525.5 906.5,536.7 909.3,536.7 909.3,545.0 912.1,545.0 912.1,550.6 914.8,550.6 914.8,556.2 917.6,556.2 917.6,561.8 920.4,561.8 920.4,556.2 923.2,556.2 923.2,567.4 926.0,567.4 926.0,550.6 928.8,550.6 928.8,545.0 931.6,545.0 931.6,561.8 934.4,561.8 934.4,539.5 937.2,539.5 937.2,528.3 938.5,511.6 939.9,497.6 942.7,497.6 942.7,519.9 945.5,519.9 945.5,517.2 946.9,506.0 948.3,508.8 951.1,508.8 951.1,528.3 953.9,528.3 953.9,517.2 956.7,517.2 956.7,528.3 959.5,528.3 959.5,531.1 962.3,531.1 965.0,531.1 965.0,545.0 967.8,545.0 967.8,559.0 970.6,559.0 970.6,564.6 973.4,564.6 973.4,550.6 976.2,550.6 976.2,556.2 979.0,556.2 979.0,550.6 981.8,550.6 981.8,556.2 984.6,556.2 984.6,545.0 987.4,545.0 987.4,550.6 990.2,550.6 990.2,561.8 992.9,561.8 992.9,553.4 995.7,553.4 995.7,539.5 998.5,539.5 998.5,536.7 1001.3,536.7 1004.1,536.7 1004.1,539.5 1006.9,539.5 1006.9,531.1 1009.7,531.1 1009.7,519.9 1012.5,519.9 1012.5,480.9 1015.3,480.9 1015.3,466.9 1018.0,466.9 1018.0,455.8 1020.0,450.2 1020.0,450.2 1021.4,439.1 1022.8,441.8 1024.2,436.3 1025.6,430.7 1027.0,422.3 1028.4,411.2 1029.8,402.8 1031.2,416.7 1033.9,416.7 1033.9,433.5 1035.3,441.8 1036.7,450.2 1038.1,455.8 1039.5,450.2 1040.9,441.8 1042.3,427.9 1043.7,419.5 1045.1,411.2 1046.5,400.0 1046.5,399.9 1047.9,387.4 1049.3,337.2 1050.7,337.2 1052.1,339.9 1053.5,334.4 1054.9,331.6 1055.7,339.9 1056.3,387.4 1057.1,420.0 1059.1,416.7 1060.4,427.9 1061.8,411.2 1063.2,408.4 1064.6,405.6 1066.0,400.0 1067.4,408.4 1068.8,400.0 1070.2,413.9 1071.6,427.9 1073.0,447.4 1074.4,461.4 1075.8,475.3 1078.6,475.3 1078.6,483.7 1081.4,483.7 1081.4,480.9 1084.2,480.9 1084.2,483.7 1086.9,483.7 1086.9,489.3 1089.7,489.3 1089.7,497.6 1092.5,497.6 1092.5,506.0 1095.3,506.0 1095.3,511.6 1096.7,522.7 1098.1,533.9 1100.9,533.9 1100.9,539.5 1103.7,539.5 1103.7,556.2 1106.5,556.2 1106.5,561.8 1109.3,561.8 1109.3,567.4 1112.1,567.4 1112.1,564.6 1114.8,564.6 1114.8,556.2 1116.2,547.8 1117.6,545.0 1119.0,550.6 1120.4,556.2 1120.5,545.7 1122.9,569.5 1125.3,537.6 1127.6,560.4 1130.0,513.8 1132.4,537.8 1134.8,488.1 1137.2,522.7 1139.5,455.0 1141.9,502.3 1143.6,446.8 1145.3,498.6 1147.0,431.4 1148.7,500.9 1150.4,415.3 1152.1,495.6 1153.8,410.8 1155.5,526.0 1157.2,502.0 1158.9,534.3 1160.6,503.0 1162.3,542.9 1164.0,494.2 1165.7,479.3 1167.4,370.8 1169.1,482.9 1170.8,481.5 1172.5,551.3 1174.2,495.5 1175.9,555.9 1177.6,495.5 1179.3,554.1 1181.0,498.6 1182.7,551.1 1184.4,505.6 1186.1,557.9 1187.8,505.8 1189.5,568.1 1191.2,534.4 1192.9,565.5 1194.6,534.2 1196.3,569.2 1198.0,536.3 1199.7,557.3 1201.4,530.1 1203.1,555.0 1204.8,525.3 1206.5,551.4 1208.2,525.7 1209.9,546.6 1211.6,522.9 1213.3,550.2 1215.0,500.0 1216.7,528.9 1218.4,500.4 1220.1,529.7" fill="none" stroke="#A5A5A5" stroke-width="3" stroke-linejoin="miter" stroke-miterlimit="2" stroke-linecap="butt"/>
<polyline points="673.0,307.0 675.4,416.1 677.8,306.6 680.2,418.3 682.6,309.6" fill="none" stroke="#A5A5A5" stroke-width="3" stroke-linejoin="miter" stroke-miterlimit="2" stroke-linecap="butt"/>
<polyline points="680.0,406.4 682.4,496.7 684.8,401.4" fill="none" stroke="#A5A5A5" stroke-width="3" stroke-linejoin="miter" stroke-miterlimit="2" stroke-linecap="butt"/>
<polyline points="687.0,336.4 689.4,416.0 691.8,331.3 694.2,414.1" fill="none" stroke="#A5A5A5" stroke-width="3" stroke-linejoin="miter" stroke-miterlimit="2" stroke-linecap="butt"/>
<polyline points="693.5,406.8 695.9,496.3 698.3,403.9" fill="none" stroke="#A5A5A5" stroke-width="3" stroke-linejoin="miter" stroke-miterlimit="2" stroke-linecap="butt"/>
<polyline points="702.5,375.8 704.9,485.6" fill="none" stroke="#A5A5A5" stroke-width="3" stroke-linejoin="miter" stroke-miterlimit="2" stroke-linecap="butt"/>
<polyline points="849.8,400.0 851.4,300.0 853.2,400.0" fill="none" stroke="#A5A5A5" stroke-width="3" stroke-linejoin="miter" stroke-miterlimit="2" stroke-linecap="butt"/>
<polyline points="853.9,300.0 854.8,336.3 857.9,336.3 858.7,300.0" fill="none" stroke="#A5A5A5" stroke-width="3" stroke-linejoin="miter" stroke-miterlimit="2" stroke-linecap="butt"/>
<polyline points="867.9,300.0 869.6,327.9 871.5,327.9 872.4,400.0" fill="none" stroke="#A5A5A5" stroke-width="3" stroke-linejoin="miter" stroke-miterlimit="2" stroke-linecap="butt"/>
<polyline points="876.5,400.0 877.4,300.0 879.3,300.0 880.7,400.0 881.6,400.0" fill="none" stroke="#A5A5A5" stroke-width="3" stroke-linejoin="miter" stroke-miterlimit="2" stroke-linecap="butt"/>
<polyline points="872.8,400.0 873.5,482.3 876.5,482.3 877.4,400.0" fill="none" stroke="#A5A5A5" stroke-width="3" stroke-linejoin="miter" stroke-miterlimit="2" stroke-linecap="butt"/>
<polyline points="881.8,400.0 883.2,462.8 886.7,462.8 888.1,411.2 889.5,469.7" fill="none" stroke="#A5A5A5" stroke-width="3" stroke-linejoin="miter" stroke-miterlimit="2" stroke-linecap="butt"/>
<polyline points="897.2,500.0 897.9,455.8 900.7,458.6 901.4,500.0" fill="none" stroke="#A5A5A5" stroke-width="3" stroke-linejoin="miter" stroke-miterlimit="2" stroke-linecap="butt"/>
<polyline points="1072.0,457.5 1072.6,441.7 1073.2,457.5 1075.8,470.9 1076.4,482.0 1077.0,470.9 1079.7,484.4 1080.3,475.2 1080.9,484.4 1083.5,495.1 1084.1,508.8 1084.7,495.1 1087.4,505.5 1088.0,485.7 1088.6,505.5 1091.2,511.8 1091.8,540.5 1092.4,511.8 1095.0,515.0 1095.6,486.9 1096.2,515.0 1098.9,519.4 1099.5,536.4 1100.1,519.4" fill="none" stroke="#A5A5A5" stroke-width="3" stroke-linejoin="miter" stroke-miterlimit="2" stroke-linecap="butt"/>
<polyline points="542.8,484.1 543.4,469.5 544.0,484.1 547.0,484.1 547.6,497.9 548.2,484.1 551.1,469.3 551.7,456.2 552.3,469.3 555.3,454.3 555.9,472.0 556.5,454.3 559.4,453.7 560.0,431.0 560.6,453.7 563.6,445.4 564.2,461.4 564.8,445.4 567.8,457.5 568.4,440.1 569.0,457.5 571.9,478.6 572.5,489.4 573.1,478.6 576.1,488.5 576.7,481.9 577.3,488.5 580.2,500.5 580.8,509.4 581.4,500.5 584.4,505.1 585.0,497.0 585.6,505.1 588.6,505.1 589.2,517.0 589.8,505.1 592.7,505.1 593.3,494.9 593.9,505.1 596.9,505.1 597.5,516.4 598.1,505.1 601.0,505.1 601.6,495.2 602.2,505.1 605.2,505.1 605.8,514.7 606.4,505.1 609.4,505.1 610.0,492.6 610.6,505.1" fill="none" stroke="#A5A5A5" stroke-width="3" stroke-linejoin="miter" stroke-miterlimit="2" stroke-linecap="butt"/>
<polyline points="750.0,480.0 750.6,471.9 751.2,480.0 754.2,472.9 754.8,481.2 755.4,472.9 758.3,469.9 758.9,461.2 759.5,469.9 762.5,468.0 763.1,479.7 763.7,468.0" fill="none" stroke="#A5A5A5" stroke-width="3" stroke-linejoin="miter" stroke-miterlimit="2" stroke-linecap="butt"/>
<polyline points="907.0,560.5 907.6,552.2 908.2,560.5 911.2,560.3 911.8,574.3 912.4,560.3 915.3,560.2 915.9,550.0 916.5,560.2 919.5,560.0 920.1,574.0 920.7,560.0 923.6,558.3 924.2,549.6 924.8,558.3 927.8,556.3 928.4,570.0 929.0,556.3 932.0,554.4 932.6,545.9 933.2,554.4" fill="none" stroke="#A5A5A5" stroke-width="3" stroke-linejoin="miter" stroke-miterlimit="2" stroke-linecap="butt"/>
<polyline points="938.0,528.5 938.6,508.4 939.2,528.5 942.5,528.7 943.1,546.3 943.7,528.7 947.0,528.9 947.6,512.1 948.2,528.9 951.4,529.9 952.0,545.5 952.6,529.9 955.9,532.8 956.5,517.2 957.1,532.8 960.4,535.7 961.0,549.3 961.6,535.7 964.9,538.6 965.5,522.4 966.1,538.6" fill="none" stroke="#A5A5A5" stroke-width="3" stroke-linejoin="miter" stroke-miterlimit="2" stroke-linecap="butt"/>
<polyline points="1063.5,412.0 1065.8,374.0 1067.5,374.0 1069.5,408.0" fill="none" stroke="#A5A5A5" stroke-width="3" stroke-linejoin="miter" stroke-miterlimit="2" stroke-linecap="butt"/>
<polyline points="1060.0,413.5 1060.6,402.8 1061.2,413.5 1063.5,413.8 1064.1,422.3 1064.7,413.8 1067.0,414.0 1067.6,405.0 1068.2,414.0 1070.6,414.3 1071.2,424.2 1071.8,414.3" fill="none" stroke="#A5A5A5" stroke-width="3" stroke-linejoin="miter" stroke-miterlimit="2" stroke-linecap="butt"/>
<polyline points="66.1,363.0 78.1,363.0 79.0,386.7 81.8,386.7 83.7,350.4 86.5,350.4 86.5,372.7 87.9,361.6 90.1,361.6 90.1,372.7 91.2,358.8 92.9,372.7 94.9,361.6 97.7,361.6 97.7,349.0 99.1,342.1 101.8,342.1 102.4,372.7 104.1,329.5 106.0,328.1 107.4,342.1 109.7,342.1 110.2,417.4 111.6,342.1 113.6,342.1 114.4,378.3 117.2,378.3 117.2,406.2 115.8,411.2 117.2,436.3 120.0,436.3 120.0,458.6 126.9,458.6 128.3,447.4 129.7,458.6 132.5,458.6 132.5,472.5 135.3,472.5 135.3,492.1 136.5,500.0 137.9,509.8 139.3,515.3 140.7,512.6 142.1,520.9 143.5,527.9 144.9,533.5 146.3,523.7 147.0,502.8 148.4,518.1 149.7,516.7 150.4,508.4 151.8,518.1 153.2,530.7 153.9,502.8 155.3,513.9 156.7,511.2 158.1,522.3 159.5,527.9 160.9,525.1 162.3,529.3 163.7,520.9 165.1,512.6 165.8,505.6 167.2,500.0 168.8,483.7 171.6,483.7 171.6,460.0 173.8,460.0 173.8,475.3 174.9,469.7 177.2,469.7 177.2,455.8 179.9,455.8 179.9,460.0 184.1,460.0 184.1,451.6 186.9,451.6 186.9,455.8 189.7,455.8 189.7,460.0 193.3,460.0 193.3,462.8 195.3,475.3 198.1,475.3 198.1,480.9 200.9,480.9 202.8,473.9 204.5,473.9 205.0,507.4 209.2,507.4 210.6,521.3 213.4,521.3 213.4,517.2 216.2,517.2 216.2,511.6 219.0,511.6 219.0,517.2 223.2,517.2 223.2,514.4 227.4,514.4 227.4,511.6 229.6,511.6 229.6,506.0 230.7,482.3 234.3,482.3 234.3,472.5 235.7,464.7 239.9,464.7 241.3,458.6 244.1,458.6 244.1,450.2 248.3,450.2 248.3,446.0 251.1,446.0 251.1,441.8 253.9,441.8 253.9,439.1 258.0,439.1 258.0,427.9 260.0,411.2 260.0,411.2 266.7,411.2 272.3,411.2 275.1,411.2 275.1,427.9 276.5,411.2 279.3,411.2 279.3,422.3 282.1,422.3 282.1,411.2 284.9,411.2 284.9,422.3 286.3,413.9 289.1,413.9 289.1,411.2 290.4,430.7 291.8,416.7 294.6,416.7 294.6,433.5 296.0,422.3 297.4,416.7 299.7,416.7 299.7,405.6 300.8,402.8 301.6,433.5 303.0,480.9 305.8,480.9 305.8,441.8 308.6,441.8 308.6,455.8 310.0,469.7 312.8,469.7 312.8,483.7 314.2,472.5 315.6,483.7 318.3,483.7 318.3,475.3 321.1,475.3 321.1,483.7 322.5,455.8 323.9,447.4 326.7,447.4 329.5,447.4 330.0,448.4 332.8,448.4 332.8,445.6 334.2,453.9 335.6,469.3 337.7,469.3 337.7,456.7 339.8,456.7 339.8,467.9 341.2,490.2 342.6,474.9 343.9,455.3 345.3,473.5 346.7,460.9 348.1,465.1 349.5,442.8 350.9,462.3 352.3,444.2 353.7,463.7 355.1,441.4 356.5,453.9 357.9,445.6 359.3,469.3 360.7,451.2 362.1,448.4 363.5,455.3 364.9,447.0 366.3,448.4 367.7,440.0 368.5,436.3 367.7,415.3 368.5,370.6 370.5,398.5 371.9,367.8 373.3,412.5 375.5,412.5 375.5,381.8 376.9,351.1 378.3,306.5 379.7,351.1 381.1,392.9 382.5,370.6 383.9,359.5 386.7,359.5 388.1,381.8 389.5,359.5 390.9,392.9 392.3,398.5 393.7,392.9 395.0,412.5 396.4,404.1 397.8,415.3 399.2,420.1 400.6,450.2 402.9,450.2 402.9,489.3 404.8,472.5 407.6,472.5 407.6,475.3 410.4,475.3 410.4,469.7 411.8,464.2 414.6,464.2 414.6,447.4 417.4,447.4 417.4,453.0 418.8,466.9 420.7,455.8 422.9,455.8 422.9,441.8 424.3,416.7 424.3,404.1 425.7,372.0 428.5,372.0 429.4,349.7 430.8,337.2 434.1,337.2 435.5,306.5 442.5,306.5 443.9,296.7 448.0,296.7 448.9,261.8 450.0,260.4 450.0,261.8 456.7,261.8 458.1,257.7 469.3,257.7 472.1,257.7 472.1,261.8 473.5,267.4 474.9,302.3 476.3,267.4 477.7,247.9 479.1,231.2 487.4,231.2 488.8,261.8 490.2,239.5 491.6,261.8 493.0,242.3 494.4,247.9 495.2,284.2 498.6,284.2 500.0,328.8 501.4,370.6 503.6,370.6 503.6,376.2 504.9,400.0 505.6,413.9 507.0,416.7 507.7,425.1 509.1,461.4 510.4,427.9 511.8,448.8 513.2,427.9 514.6,434.9 515.3,473.9 516.7,434.9 518.1,427.9 518.8,415.3 520.9,415.3 521.6,422.3 523.0,419.5 523.7,437.7 525.1,436.3 525.8,420.9 527.2,425.1 528.6,446.0 530.0,444.6 531.4,482.3 532.8,448.8 534.2,437.7 534.9,482.3 535.6,446.0 536.9,482.3 538.3,446.0 539.7,482.3 541.1,446.0 542.5,446.0 543.2,461.4 543.9,415.3 545.3,413.9 546.0,404.1 548.8,404.1 548.8,415.3 553.0,415.3 553.0,373.4 555.8,373.4 555.8,359.5 557.2,401.3 559.9,401.3 559.9,370.6 562.7,370.6 562.7,376.2 565.5,376.2 565.5,370.6 566.9,353.9 568.3,328.8 569.7,359.5 571.1,392.9 573.9,392.9 573.9,351.1 576.7,351.1 578.1,387.4 580.9,387.4 580.9,373.4 582.3,376.2 585.0,376.2 585.0,398.5 587.3,398.5 587.3,415.3 587.3,427.9 589.2,441.8 592.0,441.8 592.0,447.4 596.2,447.4 596.2,450.2 599.0,450.2 599.0,455.8 601.2,455.8 601.2,466.9 603.2,450.2 606.0,450.2 606.0,447.4 608.8,447.4 608.8,441.8 611.5,441.8 611.5,427.9 612.9,416.7 614.3,450.2 615.7,472.5 617.1,483.7 618.5,455.8 621.3,455.8 621.3,439.1 624.1,439.1 624.1,416.7 625.5,405.6 626.9,409.7 629.7,409.7 629.7,398.5 632.5,398.5 632.5,348.3 633.9,337.2 636.7,337.2 636.7,331.6 638.0,337.2 640.0,339.9 640.0,337.2 641.2,348.3 642.6,356.7 645.3,356.7 645.3,351.1 648.1,351.1 649.5,353.9 650.9,342.7 652.3,284.2 653.7,275.8 655.1,273.0 655.7,220.0 655.7,152.7 661.2,152.7 662.1,130.4 662.9,130.4 663.5,42.6 665.7,42.6 666.3,52.3 667.1,130.4 669.1,130.4 669.6,85.8 671.8,85.8 672.7,138.8 674.1,175.0 685.2,175.0 685.8,197.4 687.2,175.0 696.1,175.0 696.4,230.0 696.9,348.3 699.7,348.3 699.7,349.7 703.9,349.7 705.3,394.3 710.9,394.3 712.3,420.1 713.7,422.3 716.5,422.3 716.5,441.8 719.3,441.8 719.3,469.7 722.1,469.7 722.1,492.1 726.2,492.1 726.2,497.6 727.6,525.5 729.0,480.9 733.2,480.9 734.6,492.1 736.0,489.3 737.4,506.0 738.8,489.3 741.6,489.3 741.6,492.1 743.0,508.8 744.4,489.3 747.2,489.3 747.2,492.1 749.9,492.1 749.9,422.3 752.7,422.3 752.7,433.5 755.5,433.5 755.5,413.9 758.3,413.9 758.3,411.2 759.7,399.9 761.1,345.5 763.9,345.5 763.9,314.8 765.3,314.8 766.1,220.0 766.1,204.3 766.7,220.0 767.2,220.0 768.1,314.8 769.5,331.6 770.9,337.2 772.3,317.6 773.7,292.5 775.0,289.7 775.6,226.7 776.4,230.0 777.0,233.9 777.8,247.9 779.2,270.2 782.0,270.2 783.4,314.8 786.2,314.8 786.2,317.6 787.6,359.5 790.4,359.5 790.4,373.4 793.2,373.4 794.6,358.1 796.0,358.1 796.8,420.0 796.8,446.0 799.6,446.0 800.2,415.3 801.5,415.3 802.9,447.4 808.5,447.4 808.5,450.2 809.4,416.7 811.3,436.3 812.7,416.7 814.1,413.9 823.9,413.9 823.9,384.6 828.0,384.6 828.0,372.0 830.0,372.0 830.0,372.1 835.3,372.1 836.2,353.9 842.3,353.9 843.7,341.4 846.5,341.4 846.5,340.0 847.3,328.8 849.3,328.8 850.1,319.1 850.1,266.0 850.7,173.9 852.9,173.9 852.9,169.8 854.0,266.0 857.7,266.0 858.5,217.2 861.3,217.2 861.8,263.2 863.2,240.9 864.6,263.2 866.9,263.2 867.4,217.2 868.8,240.9 870.2,263.2 871.6,240.9 873.0,263.2 875.8,263.2 877.2,260.4 878.6,239.5 880.0,239.5 880.8,285.5 882.8,285.5 885.6,285.5 885.6,282.7 886.4,327.4 889.2,327.4 889.7,349.7 893.1,349.7 893.9,360.9 893.9,415.3 907.9,415.3 908.7,436.2 910.7,447.4 912.1,458.5 913.4,480.9 914.8,497.6 916.2,511.6 917.6,511.6 919.0,503.2 921.8,503.2 921.8,506.0 923.2,517.2 924.6,528.3 926.0,506.0 928.8,506.0 930.2,525.5 931.6,511.6 933.0,494.8 934.4,483.7 937.2,483.7 937.2,492.1 938.5,480.9 939.9,492.1 941.3,450.2 942.7,483.7 945.5,483.7 945.5,469.7 946.9,453.0 948.3,455.8 949.7,466.9 951.1,480.9 953.9,480.9 953.9,475.3 956.7,475.3 956.7,472.5 959.5,472.5 959.5,475.3 962.3,475.3 962.3,478.1 965.0,478.1 965.0,489.3 967.8,489.3 967.8,503.2 970.6,503.2 970.6,522.7 972.0,500.4 973.4,483.7 974.8,472.5 976.2,475.3 979.0,475.3 979.0,464.2 980.4,447.4 983.2,447.4 983.2,439.1 984.6,444.6 987.4,444.6 987.4,450.2 988.8,472.5 990.2,455.8 992.9,455.8 992.9,453.0 995.7,453.0 995.7,447.4 997.1,441.8 998.5,450.2 1001.3,450.2 1001.3,453.0 1004.1,453.0 1004.1,469.7 1006.9,469.7 1006.9,461.4 1009.7,461.4 1009.7,450.2 1011.1,439.1 1012.5,422.3 1013.9,405.5 1015.3,397.2 1016.7,386.0 1018.0,369.3 1020.0,355.3 1021.4,342.7 1022.8,337.2 1025.6,337.2 1025.6,331.6 1028.4,331.6 1028.4,303.7 1029.8,300.9 1031.2,326.0 1033.9,326.0 1033.9,342.7 1035.3,356.7 1036.7,342.7 1039.5,342.7 1039.5,331.6 1040.9,309.3 1042.3,300.9 1043.7,275.8 1045.1,284.2 1046.5,256.3 1047.9,254.9 1049.3,292.5 1050.7,270.2 1052.1,266.0 1054.9,266.0 1056.3,286.9 1057.7,309.3 1059.1,328.8 1061.8,328.8 1061.8,314.8 1063.2,328.8 1066.0,328.8 1066.0,348.3 1067.4,314.8 1070.2,314.8 1070.2,337.2 1073.0,337.2 1073.0,331.6 1075.8,331.6 1075.8,353.9 1077.2,337.2 1078.6,348.3 1080.0,337.2 1082.8,337.2 1082.8,334.4 1084.2,353.9 1086.9,353.9 1086.9,370.6 1088.3,387.4 1091.1,387.4 1091.1,420.0 1091.1,416.7 1093.9,416.7 1093.9,427.9 1095.3,408.4 1098.1,408.4 1098.1,422.3 1099.5,444.6 1100.9,455.8 1102.3,444.6 1103.7,450.2 1105.1,469.7 1106.5,464.2 1107.9,483.7 1109.3,492.1 1110.7,506.0 1112.1,511.6 1113.4,503.2 1114.8,500.4 1116.2,514.4 1117.6,517.2 1119.0,522.7 1120.4,533.9 1120.5,498.5 1124.7,535.1 1128.9,488.4 1133.0,525.1 1137.2,432.9 1141.4,530.3 1143.3,394.4 1145.2,450.5 1147.1,386.6 1149.0,471.3 1150.9,348.9 1152.8,427.9 1154.7,326.1 1156.6,443.0 1158.5,351.7 1160.4,479.9 1162.3,351.9 1164.2,409.1 1166.1,262.1 1168.0,329.4 1169.9,258.7 1171.8,370.9 1173.7,308.8 1175.6,433.9 1177.5,308.4 1179.4,491.8 1181.3,310.8 1183.2,446.3 1185.1,310.6 1187.0,455.1 1188.9,420.1 1190.8,473.9 1192.7,415.9 1194.6,481.6 1196.5,416.1 1198.4,468.9 1200.3,399.1 1202.2,518.8 1204.1,399.3 1206.0,506.4 1207.9,401.4 1209.8,491.7 1211.7,400.5 1213.6,500.8 1215.5,380.7 1217.4,470.7 1219.3,373.9" fill="none" stroke="#FFC000" stroke-width="3" stroke-linejoin="miter" stroke-miterlimit="2" stroke-linecap="butt"/>
<polyline points="872.8,300.0 873.5,329.3 876.7,329.3 877.1,300.0" fill="none" stroke="#FFC000" stroke-width="3" stroke-linejoin="miter" stroke-miterlimit="2" stroke-linecap="butt"/>
<polyline points="894.1,413.9 895.1,439.1 897.2,439.1 897.9,415.3" fill="none" stroke="#FFC000" stroke-width="3" stroke-linejoin="miter" stroke-miterlimit="2" stroke-linecap="butt"/>
<polyline points="584.6,440.9 585.2,423.9 585.8,440.9 589.4,448.1 590.0,459.9 590.6,448.1 594.2,453.8 594.8,442.1 595.4,453.8 599.0,452.5 599.6,457.4 600.2,452.5 603.8,448.0 604.4,445.0 605.0,448.0 608.6,448.0 609.2,450.4 609.8,448.0 613.4,463.6 614.0,451.8 614.6,463.6 618.2,445.2 618.8,465.3 619.4,445.2" fill="none" stroke="#FFC000" stroke-width="3" stroke-linejoin="miter" stroke-miterlimit="2" stroke-linecap="butt"/>
<polyline points="726.7,504.5 727.3,487.1 727.9,504.5 730.9,501.0 731.5,517.6 732.1,501.0 735.0,497.5 735.6,484.1 736.2,497.5 739.2,498.7 739.8,513.7 740.4,498.7 743.3,500.0 743.9,489.8 744.5,500.0 747.5,501.2 748.1,510.5 748.7,501.2" fill="none" stroke="#FFC000" stroke-width="3" stroke-linejoin="miter" stroke-miterlimit="2" stroke-linecap="butt"/>
<polyline points="913.0,513.5 913.6,500.4 914.2,513.5 917.2,513.1 917.8,524.1 918.4,513.1 921.3,512.8 921.9,503.1 922.5,512.8 925.5,512.4 926.1,526.0 926.7,512.4 929.6,512.0 930.2,501.6 930.8,512.0 933.8,508.0 934.4,519.7 935.0,508.0 938.0,503.6 938.6,490.6 939.2,503.6" fill="none" stroke="#FFC000" stroke-width="3" stroke-linejoin="miter" stroke-miterlimit="2" stroke-linecap="butt"/>
<polyline points="547.0,413.5 547.6,402.1 548.2,413.5 550.8,409.9 551.4,427.9 552.0,409.9 554.7,406.2 555.3,386.7 555.9,406.2 558.5,403.7 559.1,415.8 559.7,403.7 562.4,401.8 563.0,383.3 563.6,401.8 566.2,400.2 566.8,419.3 567.4,400.2 570.0,403.4 570.6,387.7 571.2,403.4 573.9,406.6 574.5,425.7 575.1,406.6 577.7,409.5 578.3,395.9 578.9,409.5 581.6,412.4 582.2,429.9 582.8,412.4" fill="none" stroke="#FFC000" stroke-width="3" stroke-linejoin="miter" stroke-miterlimit="2" stroke-linecap="butt"/>
<line x1="511.5" x2="538.2" y1="669.5" y2="669.5" stroke="#5B9BD5" stroke-width="3" stroke-linecap="round"/>
<line x1="570.4" x2="596.4" y1="669.5" y2="669.5" stroke="#ED7D31" stroke-width="3" stroke-linecap="round"/>
<line x1="628.7" x2="655.1" y1="669.5" y2="669.5" stroke="#A5A5A5" stroke-width="3" stroke-linecap="round"/>
<line x1="687.1" x2="713.6" y1="669.5" y2="669.5" stroke="#FFC000" stroke-width="3" stroke-linecap="round"/>
</svg><div class="leg" style="left:542px">小红</div>
<div class="leg" style="left:601px">中红</div>
<div class="leg" style="left:659px">大红</div>
<div class="leg" style="left:717.5px">红炮头</div>
</body></html>
